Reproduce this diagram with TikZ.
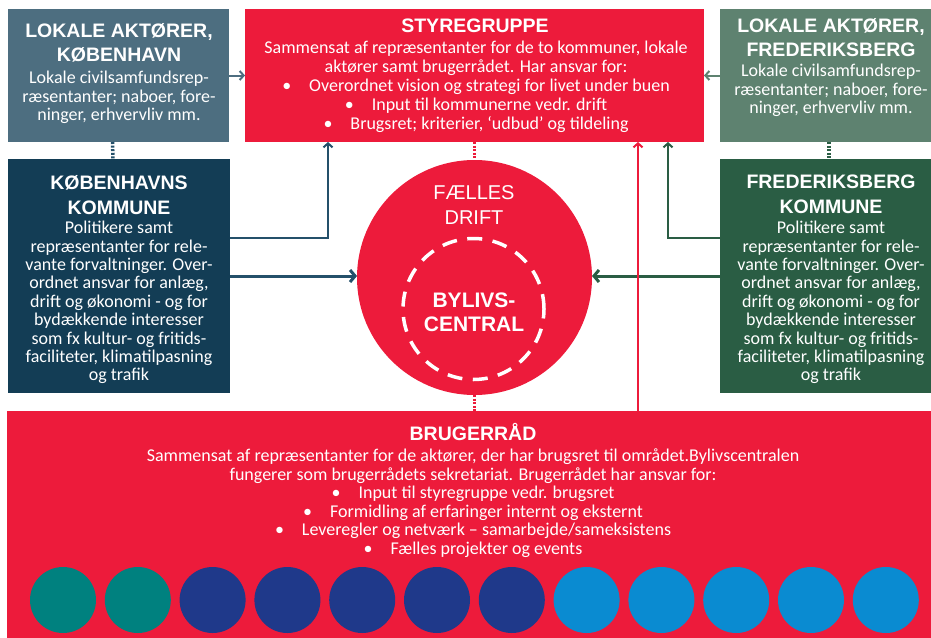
\documentclass[tikz,border=0pt]{standalone}
\usepackage{fontspec}
\setmainfont{Carlito}
\newfontfamily\hdfont{Liberation Sans}
\usetikzlibrary{arrows.meta,calc}
\definecolor{cRed}{HTML}{ED1B3B}
\definecolor{cLK}{HTML}{4D6E80}
\definecolor{cLF}{HTML}{5E8270}
\definecolor{cKK}{HTML}{133D55}
\definecolor{cKKl}{HTML}{24506A}
\definecolor{cFK}{HTML}{2A5D44}
\definecolor{cTeal}{HTML}{00817F}
\definecolor{cNavy}{HTML}{1F398A}
\definecolor{cSky}{HTML}{0A8BD1}
\begin{document}
\begin{tikzpicture}[x=1pt,y=-1pt,
  boxx/.style={rectangle,draw=none,inner sep=0pt,outer sep=0pt},
  ttl/.style={text=white,align=center,inner sep=0pt,font=\hdfont\bfseries\fontsize{19.5}{24}\selectfont},
  bdy/.style={text=white,align=center,inner sep=0pt,font=\fontsize{18}{18.5}\selectfont},
  conn/.style={line width=2pt,-{Straight Barb[length=4pt,width=9pt]}},
  bigconn/.style={line width=3pt,-{Straight Barb[length=5pt,width=12pt]}},
  dots/.style={line width=3.5pt,dash pattern=on 2pt off 1.6pt},
  dot/.style={circle,inner sep=0pt,minimum width=66pt,minimum height=66pt}
]
\useasboundingbox (0,0) rectangle (931,637);
\clip (0,0) rectangle (931,637);

% boxes
\node[boxx,fill=cLK,minimum width=221pt,minimum height=133pt] (lk) at (118.5,75.5) {};
\node[boxx,fill=cRed,minimum width=459pt,minimum height=133pt] (sg) at (474.5,75.5) {};
\node[boxx,fill=cLF,minimum width=220pt,minimum height=133pt] (lf) at (830,75.5) {};
\node[boxx,fill=cKK,minimum width=222pt,minimum height=234pt] (kk) at (119,276) {};
\node[boxx,fill=cFK,minimum width=220pt,minimum height=234pt] (fk) at (830,276) {};
\node[boxx,fill=cRed,minimum width=933pt,minimum height=229pt] (br) at (473.5,525.5) {};
\node[circle,fill=cRed,inner sep=0pt,outer sep=0pt,minimum size=235pt] (circ) at (474.5,277.5) {};
\node[circle,draw=white,line width=3.5pt,dash pattern=on 15pt off 10.5pt,inner sep=0pt,minimum size=141pt] (bc) at (473.5,309) {};

% coordinates for connectors
\coordinate (rx) at (638,0);
\coordinate (kx) at (328,0);
\coordinate (fx) at (668,0);

% connectors
\draw[conn,cLK] (lk.east) -- (sg.west);
\draw[conn,cLF] (lf.west) -- (sg.east);
\draw[dots,cKKl] ($(lk.south)+(-6,0)$) -- ($(kk.north)+(-6,0)$);
\draw[dots,cFK] ($(lf.south)+(-1,0)$) -- ($(fk.north)+(-1,0)$);
\draw[conn,cKKl] ($(kk.east)+(0,-38)$) -| (sg.south -| kx);
\draw[conn,cFK] ($(fk.west)+(0,-38)$) -| (sg.south -| fx);
\draw[bigconn,cKKl] (kk.east) -- (kk.east -| circ.west);
\draw[bigconn,cFK] (fk.west) -- (fk.west -| circ.east);
\draw[conn,cRed] (br.north -| rx) -- (sg.south -| rx);
\draw[dots,cRed] (sg.south -| circ.north) -- (circ.north);
\draw[dots,cRed] (circ.south) -- (br.north -| circ.south);

% texts
\node[ttl,anchor=north] (lkt) at (119,23) {LOKALE AKTØRER,\\KØBENHAVN};
\node[bdy,anchor=north] (lkb) at (119,71) {Lokale civilsamfundsrep-\\ræsentanter; naboer, fore-\\ninger, erhvervliv mm.};
\node[ttl,anchor=north] (lft) at (831,18) {LOKALE AKTØRER,\\FREDERIKSBERG};
\node[bdy,anchor=north] (lfb) at (831,64) {Lokale civilsamfundsrep-\\ræsentanter; naboer, fore-\\ninger, erhvervliv mm.};
\node[ttl,anchor=base] (sgt) at (475,32) {STYREGRUPPE};
\node[bdy,anchor=north,font=\fontsize{18}{19}\selectfont] (sgb) at (476,41) {Sammensat af repræsentanter for de to kommuner, lokale\\aktører samt brugerrådet. Har ansvar for:\\\textbullet\quad Overordnet vision og strategi for livet under buen\\\textbullet\quad Input til kommunerne vedr. drift\\\textbullet\quad Brugsret; kriterier, ‘udbud’ og tildeling};
\node[ttl,anchor=north,font=\hdfont\bfseries\fontsize{19.5}{25}\selectfont] (kkt) at (119,175) {KØBENHAVNS\\KOMMUNE};
\node[bdy,anchor=north,font=\fontsize{18}{18.4}\selectfont] (kkb) at (119,221) {Politikere samt\\repræsentanter for rele-\\vante forvaltninger. Over-\\ordnet ansvar for anlæg,\\drift og økonomi - og for\\bydækkende interesser\\som fx kultur- og fritids-\\faciliteter, klimatilpasning\\og trafik};
\node[ttl,anchor=north,font=\hdfont\bfseries\fontsize{19.5}{25}\selectfont] (fkt) at (831,175) {FREDERIKSBERG\\KOMMUNE};
\node[bdy,anchor=north,font=\fontsize{18}{18.4}\selectfont] (fkb) at (831,221) {Politikere samt\\repræsentanter for rele-\\vante forvaltninger. Over-\\ordnet ansvar for anlæg,\\drift og økonomi - og for\\bydækkende interesser\\som fx kultur- og fritids-\\faciliteter, klimatilpasning\\og trafik};
\node[text=white,align=center,inner sep=0pt,anchor=north,font=\hdfont\fontsize{20}{25}\selectfont] (ct) at (474,185) {FÆLLES\\DRIFT};
\node[text=white,align=center,inner sep=0pt,anchor=north,font=\hdfont\bfseries\fontsize{21}{24}\selectfont] (bt) at (474,293) {BYLIVS-\\CENTRAL};
\node[ttl,anchor=base] (brt) at (473,440) {BRUGERRÅD};
\node[bdy,anchor=north] (brb) at (473,449) {Sammensat af repræsentanter for de aktører, der har brugsret til området.Bylivscentralen\\fungerer som brugerrådets sekretariat. Brugerrådet har ansvar for:\\\textbullet\quad Input til styregruppe vedr. brugsret\\\textbullet\quad Formidling af erfaringer internt og eksternt\\\textbullet\quad Leveregler og netværk – samarbejde/sameksistens\\\textbullet\quad Fælles projekter og events};

% member dots
\foreach \i/\c in {0/cTeal,1/cTeal,2/cNavy,3/cNavy,4/cNavy,5/cNavy,6/cNavy,7/cSky,8/cSky,9/cSky,10/cSky,11/cSky}{
  \node[dot,fill=\c] (m\i) at ({63+74.8*\i},600) {};
}
\end{tikzpicture}
\end{document}
